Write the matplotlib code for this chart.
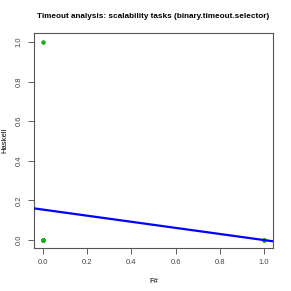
import numpy as np
import matplotlib
matplotlib.use("Agg")
import matplotlib.pyplot as plt

plt.rcParams['font.family'] = ['Liberation Sans', 'DejaVu Sans']

# data: F# (x) vs Haskell (y) outcomes, with overlapping points
x_vals = [0, 0, 0, 0, 0, 0, 0, 0, 0, 0, 0, 0, 0, 1, 1, 1, 1]
y_vals = [1, 1, 0, 0, 0, 0, 0, 0, 0, 0, 0, 0, 0, 0, 0, 0, 0]
xticks = [0.0, 0.2, 0.4, 0.6, 0.8, 1.0]
yticks = [0.0, 0.2, 0.4, 0.6, 0.8, 1.0]

W = H = 291
fig = plt.figure(figsize=(W/100, H/100), dpi=100)
left, right, top, bottom = 34, 273, 33, 248
ax = fig.add_axes([left/W, 1-bottom/H, (right-left)/W, (bottom-top)/H])

ax.scatter(x_vals, y_vals, s=9, color='#22aa22', zorder=2, linewidths=0)
slope, intercept = np.polyfit(x_vals, y_vals, 1)
xl = np.array([-0.1, 1.1])
ax.plot(xl, intercept + slope*xl, color='#0000ff', lw=1.6, zorder=3)

ax.set_xlim(-0.04, 1.04)
ax.set_ylim(-0.04, 1.045)
ax.set_xticks(xticks)
ax.set_yticks(yticks)
ax.set_xticklabels([f"{t:.1f}" for t in xticks])
ax.set_yticklabels([f"{t:.1f}" for t in yticks], rotation=90, va='center')
ax.tick_params(direction='out', length=4, width=0.6, labelsize=5.5, colors='#444444', pad=4)
for s in ax.spines.values():
    s.set_linewidth(0.8)
    s.set_color('#555555')

ax.set_xlabel('F#', fontsize=5.5)
ax.set_ylabel('Haskell', fontsize=5.5)
ax.xaxis.set_label_coords((153.5-34)/239, (248-278)/215)
ax.yaxis.set_label_coords((8-34)/239, 0.5)
ax.set_title('Timeout analysis: scalability tasks (binary.timeout.selector)',
             fontsize=5.9, fontweight='bold', pad=10.5)

fig.savefig('out.png', dpi=100)
